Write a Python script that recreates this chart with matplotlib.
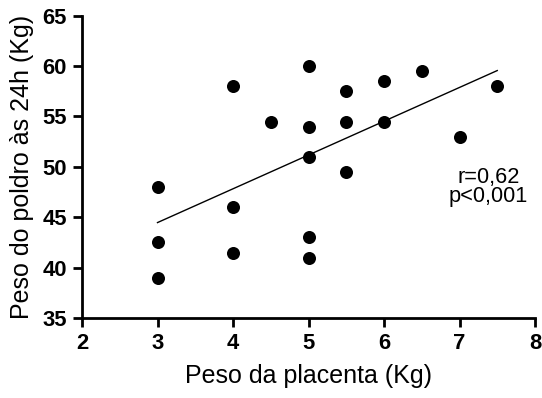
import numpy as np
import matplotlib
matplotlib.use("Agg")
import matplotlib.pyplot as plt

plt.rcParams['font.family'] = ['Liberation Sans', 'DejaVu Sans']

# Placenta weight (kg) and foal weight at 24 h (kg)
placenta = [3, 3, 3, 4, 4, 4, 4.5, 5, 5, 5, 5, 5, 5.5, 5.5, 5.5, 6, 6, 6.5, 7, 7.5]
foal = [48, 42.5, 39, 58, 46, 41.5, 54.5, 60, 54, 51, 43, 41, 57.5, 54.5, 49.5,
        58.5, 54.5, 59.5, 53, 58]
x_ticks = [2, 3, 4, 5, 6, 7, 8]
y_ticks = [35, 40, 45, 50, 55, 60, 65]

fig = plt.figure(figsize=(5.42, 3.98), dpi=100)
ax = fig.add_axes([82 / 542, 1 - 318 / 398, (535 - 82) / 542, (318 - 15.7) / 398])

ax.scatter(placenta, foal, s=88, color='black', zorder=3, clip_on=False,
           linewidths=0)

# Linear regression line over the observed range
slope, intercept = np.polyfit(placenta, foal, 1)
xs = np.array([min(placenta), max(placenta)])
ax.plot(xs, slope * xs + intercept, color='black', lw=1.0)

ax.text(7.38, 48.4, 'r=0,62', ha='center', va='baseline', fontsize=15.7)
ax.text(7.38, 46.5, 'p<0,001', ha='center', va='baseline', fontsize=15.7)

ax.set_xlim(2, 8)
ax.set_ylim(35, 65)
ax.set_xticks(x_ticks)
ax.set_yticks(y_ticks)
for s in ['top', 'right']:
    ax.spines[s].set_visible(False)
for s in ['left', 'bottom']:
    ax.spines[s].set_linewidth(2)
ax.tick_params(width=2, length=6.5, labelsize=15.8, pad=4.3)
for lab in ax.get_xticklabels() + ax.get_yticklabels():
    lab.set_fontweight('bold')

ax.set_xlabel('Peso da placenta (Kg)', fontsize=18, labelpad=7)
ax.set_ylabel('Peso do poldro às 24h (Kg)', fontsize=18, labelpad=6)

fig.savefig('out.png', dpi=100)
